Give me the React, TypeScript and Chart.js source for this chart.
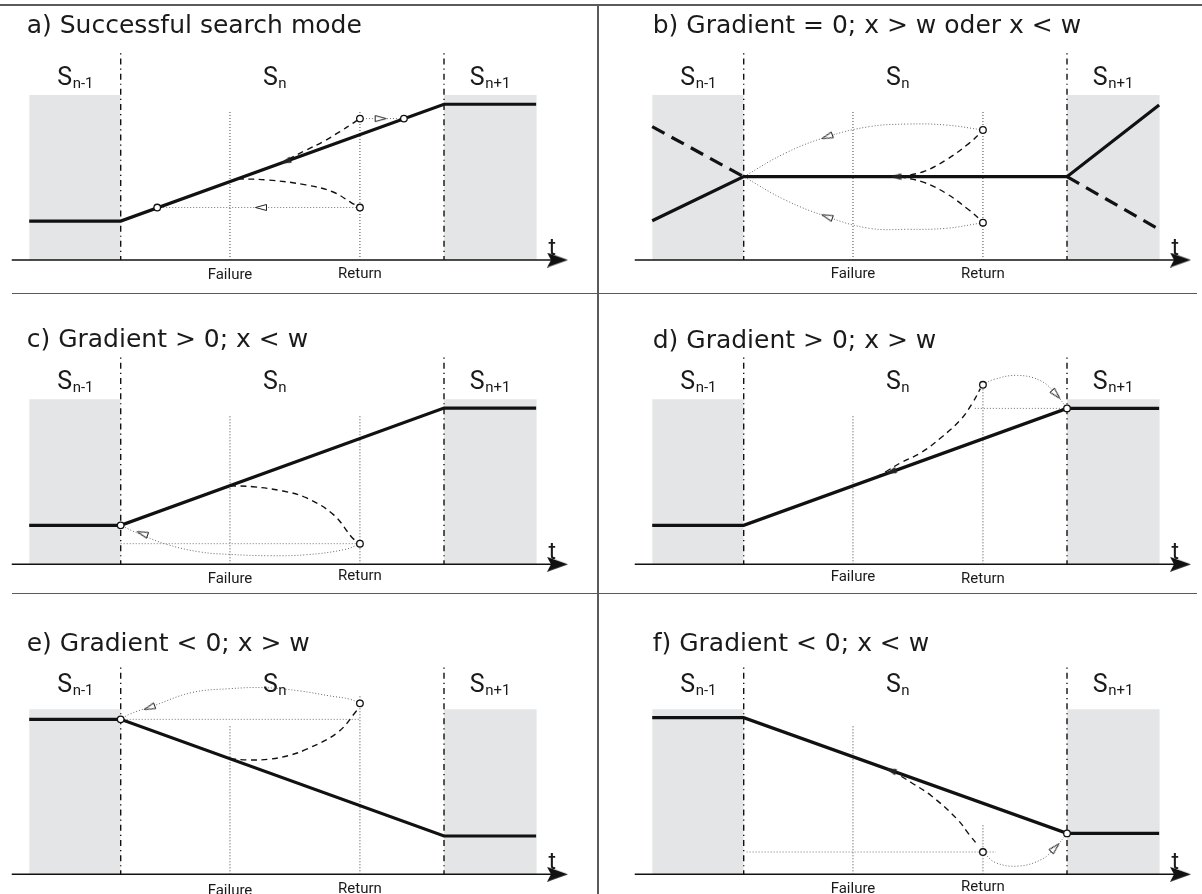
import React, { useEffect, useRef } from "react";
import { Chart, registerables } from "chart.js";

Chart.register(...registerables);

type Pt = [number, number];
type Arrow = { at: Pt; toward: Pt };

// ---------------- shared values (x: time units, stage S_n spans 0..10; y: value units, grey band = 10)
const panelTitles = [
  "a) Successful search mode",
  "b) Gradient = 0; x > w oder x < w",
  "c) Gradient > 0; x < w",
  "d) Gradient > 0; x > w",
  "e) Gradient < 0; x > w",
  "f) Gradient < 0; x < w",
];
const stageNames = ["n-1", "n", "n+1"];
const stageLabelX = [-1.96, 4.4, 10.8];
const eventNames = ["Failure", "Return"];
const eventX = [3.38, 7.4];
const stageBounds = [0, 10];
const prevBand: Pt[] = [[-2.83, 10], [0, 10]];
const nextBand: Pt[] = [[10, 10], [12.87, 10]];
const boundaryTop = 12.53;
const failureTop = 9.08;
const timeAxis: Pt[] = [[-3.37, 0], [13.4, 0]];
const timeArrow: Pt[] = [[13.51, 0]];
const timeLabelX = 13.35;

// ---------------- panel a
const aMain: Pt[] = [[-2.83, 2.36], [0, 2.36], [10, 9.44], [12.85, 9.44]];
const aDashed: Pt[][] = [
  [[3.62, 4.92], [4.56, 4.85], [5.73, 4.55], [6.57, 4.12], [7.15, 3.45], [7.33, 3.27]],
  [[4.9, 5.83], [5.75, 6.67], [6.26, 7.17], [6.78, 7.78], [7.19, 8.3], [7.31, 8.46]],
];
const aDotted: Pt[][] = [[[1.13, 3.18], [7.4, 3.18]], [[7.4, 8.57], [8.76, 8.57]]];
const aCircles: Pt[] = [[1.13, 3.18], [7.4, 3.18], [7.4, 8.57], [8.76, 8.57]];
const aArrows: Arrow[] = [
  { at: [4.34, 3.18], toward: [3.5, 3.18] },
  { at: [8.04, 8.57], toward: [8.6, 8.57] },
];
const aMerges: Arrow[] = [{ at: [5.1, 5.97], toward: [4.5, 5.55] }];
const aReturnTop = 9.09;

// ---------------- panel b
const bMain: Pt[] = [[-2.83, 2.38], [0, 5.05], [10, 5.05], [12.85, 9.39]];
const bMainAlt: Pt[][] = [[[-2.83, 8.08], [0, 5.05]], [[10, 5.05], [12.85, 1.86]]];
const bDashed: Pt[][] = [
  [[4.83, 5.05], [5.55, 5.35], [6.26, 6.06], [6.97, 7.07], [7.3, 7.65]],
  [[4.83, 5.05], [5.55, 4.72], [6.26, 4.04], [6.97, 3.03], [7.3, 2.48]],
];
const bArcs: Pt[][] = [
  [[7.4, 7.88], [6.26, 8.18], [5.07, 8.24], [3.88, 8.08], [2.58, 7.47], [1.28, 6.47], [0, 5.05]],
  [[7.4, 2.26], [6.26, 1.92], [5.07, 1.86], [3.88, 1.92], [2.58, 2.62], [1.28, 3.64], [0, 5.05]],
];
const bCircles: Pt[] = [[7.4, 7.88], [7.4, 2.26]];
const bArrows: Arrow[] = [
  { at: [2.58, 7.47], toward: [1.9, 6.99] },
  { at: [2.58, 2.63], toward: [1.9, 3.11] },
];
const bMerges: Arrow[] = [{ at: [4.7, 5.05], toward: [4.0, 5.05] }];
const bReturnTop = 9.09;

// ---------------- panel c
const cMain: Pt[] = [[-2.83, 2.36], [0, 2.36], [10, 9.47], [12.85, 9.47]];
const cDashed: Pt[][] = [
  [[3.38, 4.76], [4.09, 4.7], [5.02, 4.44], [5.75, 4.02], [6.58, 3.01], [7.17, 1.59], [7.3, 1.4]],
];
const cArcs: Pt[][] = [
  [[7.4, 1.25], [6.94, 0.9], [5.75, 0.58], [4.6, 0.52], [3.38, 0.6], [2.45, 0.75], [1.42, 1.21], [0.6, 1.82], [0, 2.36]],
];
const cDotted: Pt[][] = [[[0, 1.25], [7.4, 1.25]]];
const cCircles: Pt[] = [[0, 2.36], [7.4, 1.25]];
const cArrows: Arrow[] = [{ at: [0.67, 1.87], toward: [0.2, 2.2] }];
const cMerges: Arrow[] = [];
const cReturnTop = 9.07;

// ---------------- panel d
const dMain: Pt[] = [[-2.83, 2.36], [0, 2.36], [10, 9.45], [12.85, 9.45]];
const dDashed: Pt[][] = [
  [[4.1, 5.27], [4.42, 5.64], [4.86, 6.16], [5.48, 6.76], [6.1, 7.67], [6.72, 8.79], [7.08, 9.79], [7.32, 10.65]],
];
const dArcs: Pt[][] = [[[7.4, 10.88], [7.75, 11.21], [8.47, 11.45], [9.2, 11.11], [9.66, 10.3], [10, 9.45]]];
const dDotted: Pt[][] = [[[7.15, 9.45], [10, 9.45]]];
const dCircles: Pt[] = [[7.4, 10.88], [10, 9.45]];
const dArrows: Arrow[] = [{ at: [9.66, 10.3], toward: [9.9, 9.8] }];
const dMerges: Arrow[] = [{ at: [4.55, 5.6], toward: [3.95, 5.17] }];
const dReturnTop = 10.88;

// ---------------- panel e
const eMain: Pt[] = [[-2.83, 9.39], [0, 9.39], [10, 2.32], [12.85, 2.32]];
const eDashed: Pt[][] = [
  [[3.38, 6.99], [4.0, 6.93], [4.57, 6.97], [5.2, 7.2], [5.75, 7.58], [6.7, 8.58], [7.29, 9.9], [7.35, 10.15]],
];
const eArcs: Pt[][] = [
  [[7.4, 10.36], [7.09, 10.61], [6.47, 10.81], [5.55, 11.11], [4.45, 11.31], [3.38, 11.25], [2.19, 11.01], [1.0, 10.2], [0.29, 9.72], [0, 9.39]],
];
const eDotted: Pt[][] = [[[0, 9.39], [7.4, 9.39]]];
const eCircles: Pt[] = [[0, 9.39], [7.4, 10.36]];
const eArrows: Arrow[] = [{ at: [0.89, 10.1], toward: [0.4, 9.75] }];
const eMerges: Arrow[] = [];
const eReturnTop = 10.8;

// ---------------- panel f
const fMain: Pt[] = [[-2.83, 9.49], [0, 9.49], [10, 2.48], [12.85, 2.48]];
const fDashed: Pt[][] = [
  [[4.6, 6.27], [5.19, 5.55], [5.81, 4.75], [6.61, 3.33], [6.97, 2.42], [7.26, 1.72]],
];
const fArcs: Pt[][] = [[[7.4, 1.35], [7.8, 0.7], [8.51, 0.5], [9.22, 0.91], [9.63, 1.61], [10, 2.48]]];
const fDotted: Pt[][] = [[[0.09, 1.35], [7.8, 1.35]]];
const fCircles: Pt[] = [[7.4, 1.35], [10, 2.48]];
const fArrows: Arrow[] = [{ at: [9.63, 1.61], toward: [9.85, 2.05] }];
const fMerges: Arrow[] = [{ at: [4.55, 6.3], toward: [3.95, 6.72] }];
const fReturnTop = 3.03;

// ---------------- layout (pixels)
const KX = 32.33;
const KY = 16.5;
const X_MIN = -3.45;
const X_MAX = 13.95;
const Y_MIN = 0;
const Y_MAX = 14;

const COLS = [
  { left: 0, width: 597, origin: 120.7, titleX: 26.7 },
  { left: 599, width: 603, origin: 144.7, titleX: 53.7 },
];
const ROWS = [
  { top: 0, height: 293, axis: 260, stageDy: 175 },
  { top: 293, height: 300, axis: 271.3, stageDy: 175 },
  { top: 593, height: 301, axis: 281.3, stageDy: 182 },
];

type Panel = {
  title: string;
  col: number;
  row: number;
  main: Pt[];
  mainAlt: Pt[][];
  dashed: Pt[][];
  arcs: Pt[][];
  dotted: Pt[][];
  circles: Pt[];
  arrows: Arrow[];
  merges: Arrow[];
  returnTop: number;
  titleY: number;
  failureDy: number;
  returnDy: number;
};

const PANELS: Panel[] = [
  { title: panelTitles[0], col: 0, row: 0, main: aMain, mainAlt: [], dashed: aDashed, arcs: [], dotted: aDotted, circles: aCircles, arrows: aArrows, merges: aMerges, returnTop: aReturnTop, titleY: 33.3, failureDy: 19.3, returnDy: 18.3 },
  { title: panelTitles[1], col: 1, row: 0, main: bMain, mainAlt: bMainAlt, dashed: bDashed, arcs: bArcs, dotted: [], circles: bCircles, arrows: bArrows, merges: bMerges, returnTop: bReturnTop, titleY: 33, failureDy: 18, returnDy: 18 },
  { title: panelTitles[2], col: 0, row: 1, main: cMain, mainAlt: [], dashed: cDashed, arcs: cArcs, dotted: cDotted, circles: cCircles, arrows: cArrows, merges: cMerges, returnTop: cReturnTop, titleY: 54, failureDy: 18.4, returnDy: 15.4 },
  { title: panelTitles[3], col: 1, row: 1, main: dMain, mainAlt: [], dashed: dDashed, arcs: dArcs, dotted: dDotted, circles: dCircles, arrows: dArrows, merges: dMerges, returnTop: dReturnTop, titleY: 55, failureDy: 16.4, returnDy: 18.7 },
  { title: panelTitles[4], col: 0, row: 2, main: eMain, mainAlt: [], dashed: eDashed, arcs: eArcs, dotted: eDotted, circles: eCircles, arrows: eArrows, merges: eMerges, returnTop: eReturnTop, titleY: 58, failureDy: 21, returnDy: 18.4 },
  { title: panelTitles[5], col: 1, row: 2, main: fMain, mainAlt: [], dashed: fDashed, arcs: fArcs, dotted: fDotted, circles: fCircles, arrows: fArrows, merges: fMerges, returnTop: fReturnTop, titleY: 58, failureDy: 18.4, returnDy: 16.7 },
];

const toXY = (pts: Pt[]) => pts.map(([x, y]) => ({ x, y }));

function makeImages() {
  const open = document.createElement("canvas");
  open.width = 14;
  open.height = 9;
  let g = open.getContext("2d")!;
  g.beginPath();
  g.moveTo(12.5, 4.5);
  g.lineTo(1.5, 1.5);
  g.lineTo(1.5, 7.5);
  g.closePath();
  g.fillStyle = "#fff";
  g.fill();
  g.strokeStyle = "#222";
  g.lineWidth = 1;
  g.stroke();

  const merge = document.createElement("canvas");
  merge.width = 12;
  merge.height = 8;
  g = merge.getContext("2d")!;
  g.beginPath();
  g.moveTo(11.5, 4);
  g.lineTo(0.5, 0.8);
  g.lineTo(0.5, 7.2);
  g.closePath();
  g.fillStyle = "#222";
  g.fill();

  const axis = document.createElement("canvas");
  axis.width = 21;
  axis.height = 15;
  g = axis.getContext("2d")!;
  g.beginPath();
  g.moveTo(21, 7.5);
  g.lineTo(0, 0);
  g.lineTo(4, 7.5);
  g.lineTo(0, 15);
  g.closePath();
  g.fillStyle = "#111";
  g.fill();
  return { open, merge, axis };
}

function arrowAngle(chart: any, a: Arrow) {
  const xs = chart.scales.x;
  const ys = chart.scales.y;
  const dx = xs.getPixelForValue(a.toward[0]) - xs.getPixelForValue(a.at[0]);
  const dy = ys.getPixelForValue(a.toward[1]) - ys.getPixelForValue(a.at[1]);
  return (Math.atan2(dy, dx) * 180) / Math.PI;
}

function line(pts: Pt[], style: any) {
  return {
    data: toXY(pts),
    showLine: true,
    pointRadius: 0,
    clip: false,
    fill: false,
    tension: 0,
    borderCapStyle: "butt",
    ...style,
  };
}

function buildDatasets(p: Panel, img: ReturnType<typeof makeImages>) {
  const ds: any[] = [];
  ds.push({
    data: toXY(p.circles),
    showLine: false,
    pointRadius: 3.3,
    pointBackgroundColor: "#fff",
    pointBorderColor: "#111",
    pointBorderWidth: 1.3,
    order: -3,
    clip: false,
  });
  if (p.arrows.length)
    ds.push({
      data: toXY(p.arrows.map((a) => a.at)),
      showLine: false,
      pointStyle: img.open,
      pointRadius: 5,
      pointRotation: (c: any) => arrowAngle(c.chart, p.arrows[c.dataIndex]),
      order: -2,
      clip: false,
    });
  if (p.merges.length)
    ds.push({
      data: toXY(p.merges.map((a) => a.at)),
      showLine: false,
      pointStyle: img.merge,
      pointRadius: 5,
      pointRotation: (c: any) => arrowAngle(c.chart, p.merges[c.dataIndex]),
      order: -1,
      clip: false,
    });
  ds.push({
    data: toXY(timeArrow),
    showLine: false,
    pointStyle: img.axis,
    pointRadius: 5,
    pointRotation: 0,
    order: -2,
    clip: false,
  });
  ds.push(line(p.main, { borderColor: "#111", borderWidth: 3.2, borderJoinStyle: "miter" }));
  p.mainAlt.forEach((s) => ds.push(line(s, { borderColor: "#111", borderWidth: 3.2, borderDash: [14, 8] })));
  p.dashed.forEach((s) => ds.push(line(s, { borderColor: "#111", borderWidth: 1.4, borderDash: [6, 4.5], tension: 0.4 })));
  p.arcs.forEach((s) => ds.push(line(s, { borderColor: "#666", borderWidth: 1, borderDash: [1, 2], tension: 0.4 })));
  p.dotted.forEach((s) => ds.push(line(s, { borderColor: "#777", borderWidth: 1, borderDash: [1, 2] })));
  ds.push(line([[eventX[0], 0], [eventX[0], failureTop]], { borderColor: "#444", borderWidth: 1, borderDash: [1, 2] }));
  ds.push(line([[eventX[1], 0], [eventX[1], p.returnTop]], { borderColor: "#444", borderWidth: 1, borderDash: [1, 2] }));
  stageBounds.forEach((b) =>
    ds.push(line([[b, boundaryTop], [b, 0]], { borderColor: "#111", borderWidth: 1.4, borderDash: [1.2, 4, 6, 4] }))
  );
  ds.push(line(timeAxis, { borderColor: "#111", borderWidth: 1.6 }));
  [prevBand, nextBand].forEach((b) =>
    ds.push(line(b, { borderWidth: 0, borderColor: "rgba(0,0,0,0)", backgroundColor: "#e4e5e6", fill: "origin", order: 10 }))
  );
  return ds;
}

function textPlugin(p: Panel) {
  const col = COLS[p.col];
  const row = ROWS[p.row];
  return {
    id: "panelText",
    afterDraw(chart: any) {
      const ctx = chart.ctx;
      const xs = chart.scales.x;
      const axisY = chart.scales.y.getPixelForValue(0);
      ctx.save();
      ctx.fillStyle = "#1a1a1a";
      ctx.textBaseline = "alphabetic";
      ctx.textAlign = "left";
      ctx.font = '25px "DejaVu Sans"';
      ctx.fillText(p.title, col.titleX, p.titleY);
      stageNames.forEach((n, i) => {
        const x = xs.getPixelForValue(stageLabelX[i]);
        const y = axisY - row.stageDy;
        ctx.font = "25px Roboto";
        ctx.fillText("S", x, y);
        const w = ctx.measureText("S").width;
        ctx.font = "15px Roboto";
        ctx.fillText(n, x + w + 0.5, y + 3);
      });
      ctx.textAlign = "center";
      ctx.font = "15px Roboto";
      ctx.fillText(eventNames[0], xs.getPixelForValue(eventX[0]), axisY + p.failureDy);
      ctx.fillText(eventNames[1], xs.getPixelForValue(eventX[1]), axisY + p.returnDy);
      ctx.font = "23px Roboto";
      ctx.fillText("t", xs.getPixelForValue(timeLabelX), axisY - 5);
      ctx.restore();
    },
  };
}

function PanelChart({ p }: { p: Panel }) {
  const ref = useRef<HTMLCanvasElement | null>(null);
  const col = COLS[p.col];
  const row = ROWS[p.row];
  useEffect(() => {
    if (!ref.current) return;
    const img = makeImages();
    const padLeft = col.origin + X_MIN * KX;
    const padRight = col.width - (col.origin + X_MAX * KX);
    const padTop = row.axis - (Y_MAX - Y_MIN) * KY;
    const padBottom = row.height - row.axis;
    const chart = new Chart(ref.current, {
      type: "line",
      data: { datasets: buildDatasets(p, img) },
      options: {
        responsive: false,
        animation: false,
        devicePixelRatio: 1,
        events: [],
        layout: { padding: { left: padLeft, right: padRight, top: padTop, bottom: padBottom } },
        scales: {
          x: { type: "linear", min: X_MIN, max: X_MAX, display: false },
          y: { type: "linear", min: Y_MIN, max: Y_MAX, display: false },
        },
        plugins: { legend: { display: false }, tooltip: { enabled: false }, title: { display: false } },
      },
      plugins: [textPlugin(p)],
    } as any);
    return () => chart.destroy();
  }, []);
  return (
    <canvas
      ref={ref}
      width={col.width}
      height={row.height}
      style={{ position: "absolute", left: col.left, top: row.top, width: col.width, height: row.height }}
    />
  );
}

export default function App() {
  const lineColor = "#5a5a5a";
  return (
    <div style={{ position: "absolute", left: 0, top: 0, width: 1202, height: 894, background: "#fff", overflow: "hidden" }}>
      <div style={{ position: "absolute", left: 0, top: 4, width: 1202, height: 1.5, background: lineColor }} />
      <div style={{ position: "absolute", left: 12, top: 292.5, width: 1185, height: 1.5, background: lineColor }} />
      <div style={{ position: "absolute", left: 12, top: 592.5, width: 1185, height: 1.5, background: lineColor }} />
      <div style={{ position: "absolute", left: 597, top: 4, width: 1.5, height: 890, background: lineColor }} />
      {PANELS.map((p, i) => (
        <PanelChart key={i} p={p} />
      ))}
    </div>
  );
}
